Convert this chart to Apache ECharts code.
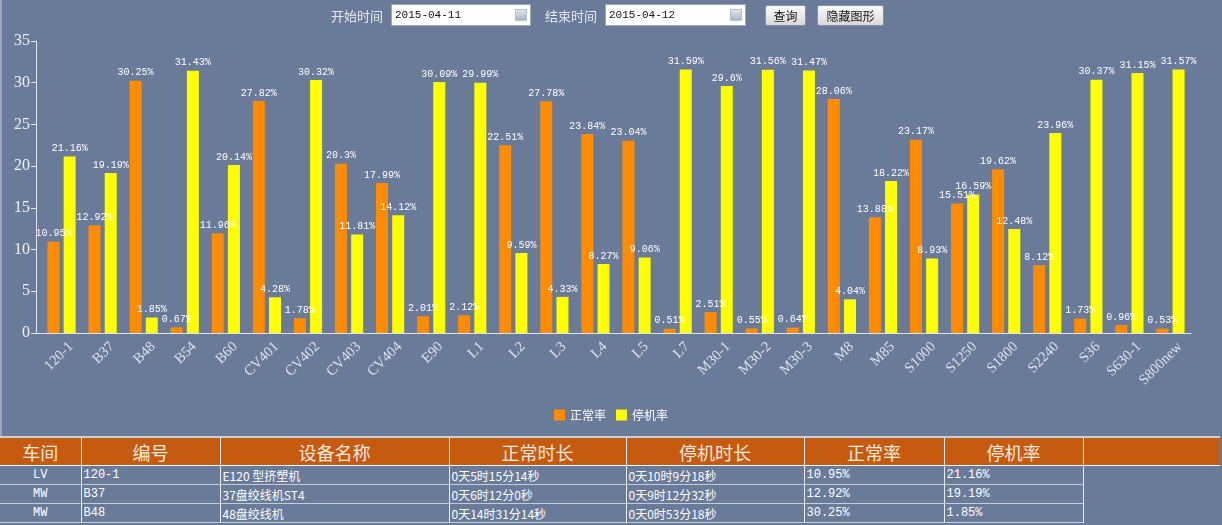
<!DOCTYPE html>
<html><head><meta charset="utf-8">
<script src="https://cdn.jsdelivr.net/npm/echarts@6/dist/echarts.min.js"></script>
<style>
html,body{margin:0;padding:0;width:1222px;height:525px;overflow:hidden;background:#6a7a99;font-family:"Noto Sans CJK SC",sans-serif;}
#edge{position:absolute;left:0;top:0;width:2px;height:436px;background:#9aa6bc;}
#chart{position:absolute;left:0;top:0;width:1222px;height:436px;}
#form{position:absolute;left:0;top:4px;width:1222px;height:24px;z-index:5;}
.lbl{position:absolute;top:3px;color:#e6ebf2;font-size:13px;line-height:18px;}
.inp{position:absolute;top:0;height:22px;background:#fff;border:1px solid #9ea6b2;box-sizing:border-box;font-family:"Liberation Mono",monospace;font-size:11px;line-height:20px;padding-left:3px;color:#111;}
.cal{position:absolute;right:3px;top:4px;width:12px;height:12px;background:linear-gradient(#dfe6ef,#aab6c8);border:1px solid #b5bfcc;box-sizing:border-box;}
.btn{position:absolute;top:1px;height:21px;box-sizing:border-box;border:1px solid #8a8f98;border-radius:2px;background:linear-gradient(#fbfbfb,#d9d9d9);font-size:12px;line-height:19px;text-align:center;color:#111;}
#tbl{position:absolute;left:0;top:436px;width:1220px;border-collapse:collapse;table-layout:fixed;border-top:2px solid #c9ced8;}
#tbl th{background:#c55a11;color:#f6eadf;font-weight:normal;font-size:18px;height:27px;padding:0;border-left:1px solid #f0f0f0;border-bottom:1px solid #ffffff;line-height:26px;}
#tbl th:first-child{border-left:none;}
#tbl td{color:#fff;font-size:12px;height:18px;line-height:17px;padding:0 0 0 2px;border-left:1px solid #e8ecf2;border-bottom:1px solid #c5cddb;font-family:"Liberation Mono","Noto Sans CJK SC",monospace;white-space:nowrap;overflow:hidden;}
#tbl td:first-child{border-left:none;text-align:center;padding:0;}
#tbl td.cn{font-family:"Noto Sans CJK SC",sans-serif;}
#tbl td.empty{border-bottom:none;}
</style></head>
<body>
<div id="edge"></div>
<div id="chart"></div>
<div id="form">
  <span class="lbl" style="left:331px">开始时间</span>
  <div class="inp" style="left:391px;width:140px">2015-04-11<div class="cal"></div></div>
  <span class="lbl" style="left:545px">结束时间</span>
  <div class="inp" style="left:605px;width:141px">2015-04-12<div class="cal"></div></div>
  <div class="btn" style="left:765px;width:41px">查询</div>
  <div class="btn" style="left:817px;width:67px">隐藏图形</div>
</div>
<table id="tbl">
  <colgroup><col style="width:81px"><col style="width:139px"><col style="width:229px"><col style="width:177px"><col style="width:178px"><col style="width:140px"><col style="width:139px"><col style="width:137px"></colgroup>
  <thead><tr id="hdr"></tr></thead>
  <tbody id="body"></tbody>
</table>
<script>
// ---- data ----
const categories = ["120-1","B37","B48","B54","B60","CV401","CV402","CV403","CV404","E90","L1","L2","L3","L4","L5","L7","M30-1","M30-2","M30-3","M8","M85","S1000","S1250","S1800","S2240","S36","S630-1","S800new"];
const normalRate = [10.95,12.92,30.25,0.67,11.96,27.82,1.78,20.3,17.99,2.01,2.12,22.51,27.78,23.84,23.04,0.51,2.51,0.55,0.64,28.06,13.88,23.17,15.51,19.62,8.12,1.73,0.96,0.53];
const stopRate = [21.16,19.19,1.85,31.43,20.14,4.28,30.32,11.81,14.12,30.09,29.99,9.59,4.33,8.27,9.06,31.59,29.6,31.56,31.47,4.04,18.22,8.93,16.59,12.48,23.96,30.37,31.15,31.57];
const seriesNames = ["正常率","停机率"];
const yTicks = {min:0,max:35,interval:5};

const tableHeaders = ["车间","编号","设备名称","正常时长","停机时长","正常率","停机率",""];
const tableWorkshop = ["LV","MW","MW"];
const tableCode = ["120-1","B37","B48"];
const tableName = ["E120 型挤塑机","37盘绞线机ST4","48盘绞线机"];
const tableNormalTime = ["0天5时15分14秒","0天6时12分0秒","0天14时31分14秒"];
const tableStopTime = ["0天10时9分18秒","0天9时12分32秒","0天0时53分18秒"];
const tableNormalRate = ["10.95%","12.92%","30.25%"];
const tableStopRate = ["21.16%","19.19%","1.85%"];

// ---- table ----
const hdr = document.getElementById('hdr');
tableHeaders.forEach(h=>{const th=document.createElement('th');th.textContent=h;hdr.appendChild(th);});
const body = document.getElementById('body');
for(let i=0;i<tableWorkshop.length;i++){
  const tr=document.createElement('tr');
  const cells=[[tableWorkshop[i],''],[tableCode[i],''],[tableName[i],'cn'],[tableNormalTime[i],'cn'],[tableStopTime[i],'cn'],[tableNormalRate[i],''],[tableStopRate[i],'']];
  cells.forEach(c=>{const td=document.createElement('td');td.textContent=c[0];if(c[1])td.className=c[1];tr.appendChild(td);});
  if(i===0){const td=document.createElement('td');td.rowSpan=tableWorkshop.length;td.className='empty';tr.appendChild(td);}
  body.appendChild(tr);
}

// ---- chart ----
const chart = echarts.init(document.getElementById('chart'));
const axisColor = '#dfe4ec';
const labelStyle = {show:true,position:'top',distance:3,color:'#ffffff',fontSize:10,fontFamily:'Liberation Mono, monospace',formatter:p=>p.value+'%'};
chart.setOption({
  animation:false,
  backgroundColor:'transparent',
  grid:{left:41,right:31,top:41,bottom:103,containLabel:false},
  legend:{data:seriesNames,top:404,left:'center',icon:'rect',itemWidth:11,itemHeight:11,itemGap:10,
    textStyle:{color:'#ffffff',fontSize:12,fontFamily:'Noto Sans CJK SC'}},
  xAxis:{type:'category',data:categories,
    axisLine:{lineStyle:{color:axisColor,width:1}},
    axisTick:{alignWithLabel:true,length:5,lineStyle:{color:axisColor}},
    axisLabel:{rotate:45,color:'#dfe4ec',fontSize:14.5,fontFamily:'Liberation Serif, serif',margin:2,interval:0,
      verticalAlign:'top',lineHeight:15,padding:[6,0,0,0]}},
  yAxis:{type:'value',min:yTicks.min,max:yTicks.max,interval:yTicks.interval,offset:5,
    axisLine:{show:true,lineStyle:{color:axisColor}},
    axisTick:{show:true,length:5,lineStyle:{color:axisColor}},
    splitLine:{show:false},
    axisLabel:{color:'#eef1f6',fontSize:16,fontFamily:'Liberation Serif, serif',margin:6}},
  series:[
    {name:seriesNames[0],type:'bar',data:normalRate,barWidth:12,barGap:'35%',itemStyle:{color:'#ff8c00'},label:labelStyle},
    {name:seriesNames[1],type:'bar',data:stopRate,barWidth:12,barGap:'35%',itemStyle:{color:'#ffff00'},label:labelStyle}
  ]
});
// extend the x axis line leftwards to the y axis, as in the reference
const origin = chart.convertToPixel({gridIndex:0},[0,0]);
const half = (chart.convertToPixel({gridIndex:0},[1,0])[0]-origin[0])/2;
const x0 = origin[0]-half;
chart.setOption({graphic:[{type:'line',shape:{x1:x0-10,y1:origin[1]+0.5,x2:x0,y2:origin[1]+0.5},style:{stroke:axisColor,lineWidth:1},silent:true}]});
</script>
</body></html>
